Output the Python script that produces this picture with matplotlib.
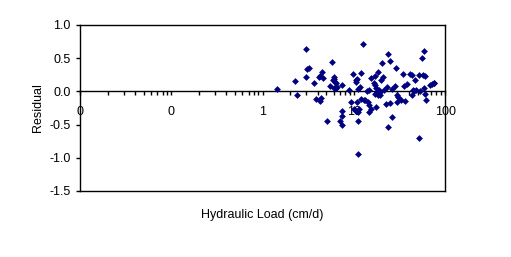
"""
Residual plot for hydraulic load (log x axis), Excel-style look.
"""

import matplotlib
matplotlib.use("Agg")
import matplotlib.pyplot as plt
from matplotlib.ticker import LogLocator, FuncFormatter, MultipleLocator

# Data
hydraulic_load = [
    1.42, 2.29, 2.35, 2.95, 2.95, 3.05, 3.2, 3.7, 3.89, 4.1,
    4.2, 4.4, 4.3, 4.5, 4.6, 5.05, 5.44, 5.82, 5.95, 6.1,
    6.1, 6.2, 6.3, 6.1, 6.4, 6.5, 7.0, 7.37, 7.37, 7.5,
    7.5, 8.95, 9.4, 9.7, 10.0, 10.6, 10.6, 10.6, 10.8, 10.9,
    11.1, 11.1, 11.1, 11.3, 11.2, 11.6, 12.0, 12.1, 12.6, 12.9,
    13.2, 13.9, 14.3, 14.5, 14.8, 14.6, 15.6, 15.6, 16.5, 17.0,
    17.0, 17.3, 17.1, 17.7, 18.0, 18.4, 18.4, 18.8, 19.2, 19.5,
    20.0, 20.4, 20.7, 21.3, 22.4, 23.2, 23.6, 23.6, 25.1, 25.1,
    26.4, 26.4, 28.5, 29.2, 29.6, 30.7, 29.6, 33.0, 34.9, 35.1,
    36.0, 38.4, 41.0, 43.1, 43.8, 44.9, 46.0, 47.1, 48.6, 51.4,
    52.2, 53.6, 56.2, 57.2, 58.1, 59.2, 59.6, 60.7, 62.3, 68.6,
    71.6, 75.0, 76.5,
]
residual = [
    0.035, 0.157, -0.06, 0.64, 0.22, 0.34, 0.35, 0.126, -0.116, 0.217,
    -0.15, -0.105, 0.23, 0.29, 0.2, -0.44, 0.076, 0.444, 0.167, 0.217,
    0.056, 0.146, 0.056, 0.187, 0.126, 0.066, -0.45, -0.3, -0.37, -0.51,
    0.096, 0.015, -0.16, 0.258, -0.26, 0.177, 0.146, -0.29, 0.19, -0.157,
    -0.31, -0.45, -0.95, -0.26, 0.035, 0.066, -0.116, 0.278, 0.72, -0.13,
    -0.136, 0.005, -0.16, -0.31, -0.2, 0.015, 0.207, -0.27, 0.126, 0.237,
    0.09, -0.23, -0.045, 0.056, -0.015, 0.29, -0.06, 0.015, -0.05, -0.01,
    0.167, 0.434, 0.21, 0.025, -0.19, 0.066, 0.56, -0.53, 0.46, -0.177,
    -0.39, 0.03, 0.076, 0.35, -0.06, -0.086, -0.16, -0.126, 0.258, 0.076,
    -0.146, 0.11, 0.268, 0.25, -0.06, 0.015, 0.0, 0.167, 0.025, -0.71,
    0.24, 0.01, 0.5, 0.24, 0.045, 0.61, -0.045, 0.227, -0.13, 0.09,
    0.106, 0.126, 0.13,
]

x_limits = (0.01, 100)
y_limits = (-1.5, 1.0)


def main():
    plt.rcParams["font.family"] = ["Liberation Sans", "DejaVu Sans"]

    fig = plt.figure(figsize=(5.11, 2.57), dpi=100)
    ax = fig.add_axes([0.157, 0.257, 0.714, 0.646])

    ax.scatter(hydraulic_load, residual, marker="D", s=12, color="#000080",
               linewidths=0, zorder=3)

    ax.set_xscale("log")
    ax.set_xlim(*x_limits)
    ax.set_ylim(*y_limits)

    # x axis crosses at zero, plot area keeps its box
    ax.spines["bottom"].set_position(("data", 0))
    for side in ["left", "top", "right", "bottom"]:
        ax.spines[side].set_linewidth(1.0)
    ax.plot([0, 1], [0, 0], transform=ax.transAxes, color="black",
            linewidth=1.0, clip_on=False)

    ax.xaxis.set_major_locator(LogLocator(base=10))
    ax.xaxis.set_minor_locator(LogLocator(base=10, subs=range(2, 10)))
    ax.xaxis.set_major_formatter(FuncFormatter(lambda v, _: f"{v:.0f}"))
    ax.xaxis.set_minor_formatter(FuncFormatter(lambda v, _: ""))
    ax.tick_params(axis="x", which="both", direction="out", length=3,
                   width=1, pad=7.5, labelsize=9, top=False)

    ax.yaxis.set_major_locator(MultipleLocator(0.5))
    ax.yaxis.set_major_formatter(FuncFormatter(lambda v, _: f"{v:.1f}"))
    ax.tick_params(axis="y", direction="out", length=3, width=1, pad=4,
                   labelsize=9, right=False)

    ax.set_ylabel("Residual", fontsize=9, labelpad=4)
    fig.text(0.513, 0.165, "Hydraulic Load (cm/d)", fontsize=9,
             ha="center", va="center")

    fig.savefig("out.png", dpi=100)


if __name__ == "__main__":
    main()
